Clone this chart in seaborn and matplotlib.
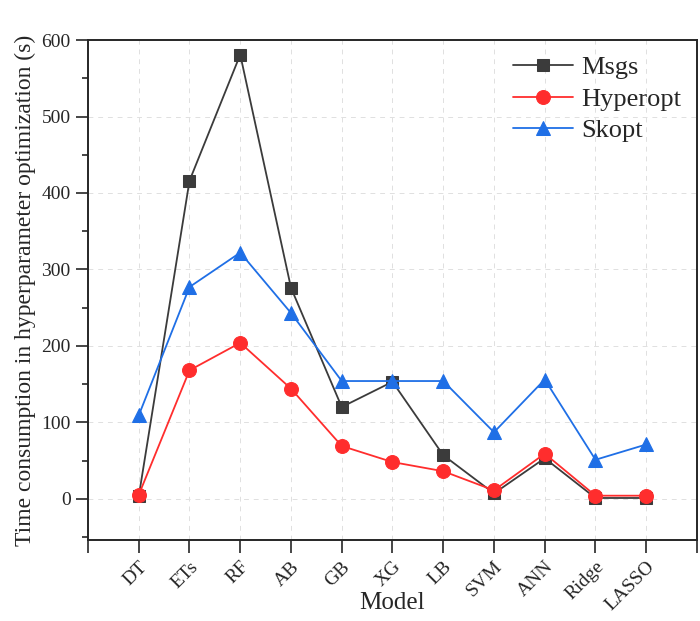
import pandas as pd
import matplotlib.pyplot as plt
from matplotlib.ticker import MultipleLocator
import seaborn as sns

# ---------------------------
# Data
# ---------------------------
models = ["DT", "ETs", "RF", "AB", "GB", "XG", "LB", "SVM", "ANN", "Ridge", "LASSO"]
msgs = [3, 416, 581, 276, 120, 153, 57, 7, 53, 1, 1]
hyperopt = [5, 168, 204, 144, 69, 48, 36, 11, 59, 4, 4]
skopt = [109, 277, 322, 243, 154, 154, 154, 87, 156, 51, 71]

series_names = ["Msgs", "Hyperopt", "Skopt"]
colors = ["#3b3b3b", "#ff2d2d", "#1f6fe6"]
markers = ["s", "o", "^"]

df = pd.DataFrame({"x": range(len(models)), "Msgs": msgs,
                   "Hyperopt": hyperopt, "Skopt": skopt})
long_df = df.melt(id_vars="x", var_name="Method", value_name="Time")

sns.set_style("ticks")
plt.rcParams["font.family"] = ["Liberation Serif", "DejaVu Serif"]

fig = plt.figure(figsize=(7, 6.21), dpi=100)
ax = fig.add_axes([0.1257, 0.1304, 0.87, 0.805])

for name, c, m in zip(series_names, colors, markers):
    sub = long_df[long_df["Method"] == name]
    sns.lineplot(data=sub, x="x", y="Time", ax=ax, color=c, marker=m,
                 markersize=10 if m != "s" else 8, markeredgecolor=c,
                 linewidth=1.3, label=name)

ax.set_xlim(-1, 11)
ax.set_ylim(-54, 600)
ax.set_xticks(range(-1, 12))
ax.set_xticklabels([""] + models + [""], rotation=45, fontsize=14,
                   ha="right", rotation_mode="anchor")
ax.yaxis.set_major_locator(MultipleLocator(100))
ax.yaxis.set_minor_locator(MultipleLocator(50))
ax.tick_params(axis="y", labelsize=14, length=9, width=1.2)
ax.tick_params(axis="y", which="minor", length=4, width=1.2)
ax.tick_params(axis="x", length=9, width=1.2, pad=4)

ax.grid(True, which="major", linestyle=(0, (5, 5)), color="#e0e0e0", linewidth=0.7)
ax.set_axisbelow(True)
for s in ax.spines.values():
    s.set_linewidth(1.4)

ax.set_xlabel("Model", fontsize=18)
ax.xaxis.set_label_coords(0.5, -0.104)
ax.set_ylabel("Time consumption in hyperparameter optimization (s)", fontsize=17)

ax.legend(loc="upper right", frameon=False, fontsize=19, handlelength=2.3,
          labelspacing=0.3, handletextpad=0.3, borderaxespad=0.2)

plt.savefig("out.png", dpi=100)
